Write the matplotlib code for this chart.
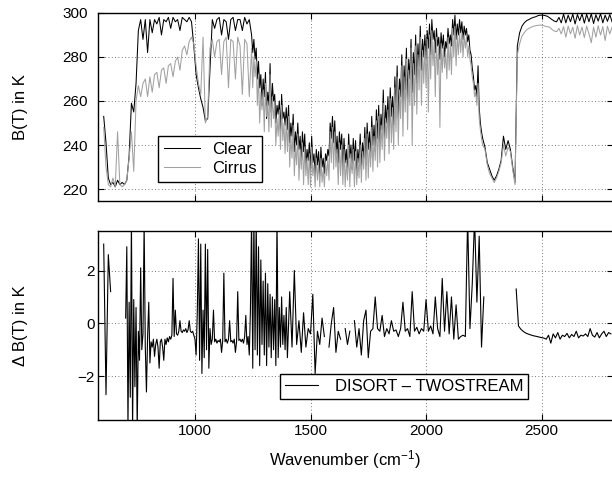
import numpy as np
import matplotlib
matplotlib.use("Agg")
import matplotlib.pyplot as plt

plt.rcParams["font.family"] = ["Liberation Sans", "DejaVu Sans"]
plt.rcParams["mathtext.default"] = "regular"

N = np.nan

# --- brightness temperatures (K) -------------------------------------------
# three stretches: 605-1235 every 10 cm^-1, 1245-2245 every 5, 2255-2805 every 10
wn_top_a = np.arange(605, 1236, 10)
wn_top_b = np.arange(1245, 2246, 5)
wn_top_c = np.arange(2255, 2806, 10)

clear_a = [
    253, 241, 225, 222, 223, 221, 224, 222, 223, 222,
    224, 235, 259, 255, 268, 292, 297, 288, 297, 282,
    297, 291, 297, 295, 298, 290, 297, 296, 298, 293,
    298, 296, 297, 292, 298, 297, 296, 298, 296, 285,
    272, 266, 261, 257, 251, 252, 275, 297, 293, 297,
    298, 290, 297, 296, 288, 297, 298, 292, 297, 297,
    292, 298, 295, 297,
]
clear_b = [
    290, 282, 288, 279, 284, 270, 278, 266, 272, 258,
    270, 262, 273, 252, 264, 258, 277, 255, 268, 260,
    263, 250, 258, 254, 260, 246, 263, 252, 255, 249,
    257, 247, 258, 241, 250, 244, 254, 237, 246, 240,
    250, 238, 244, 233, 246, 237, 245, 230, 238, 233,
    241, 228, 244, 232, 236, 226, 238, 231, 237, 226,
    239, 230, 234, 227, 236, 233, 238, 235, 250, 243,
    253, 241, 251, 236, 244, 232, 246, 238, 245, 229,
    243, 232, 238, 227, 245, 234, 240, 229, 243, 233,
    242, 226, 238, 232, 245, 229, 241, 234, 248, 231,
    250, 238, 246, 234, 253, 240, 249, 237, 256, 243,
    258, 240, 254, 247, 265, 243, 258, 250, 262, 246,
    266, 253, 262, 249, 271, 257, 276, 252, 270, 262,
    281, 256, 276, 265, 284, 260, 279, 270, 288, 264,
    282, 272, 290, 268, 286, 276, 294, 274, 288, 280,
    290, 279, 292, 284, 295, 281, 297, 288, 292, 282,
    293, 285, 289, 279, 291, 284, 290, 280, 287, 284,
    293, 286, 290, 285, 297, 290, 299, 288, 295, 290,
    297, 291, 296, 288, 294, 290, 293, 287, 290, 283,
    281, 275, 271, 265, 267, 262, 276, 257, 250, 246,
    243,
]
clear_c = [
    239, 232, 229, 226, 224,
    226, 229, 233, 244, 238, 242, 238, 230, 223, 285,
    291, 294, 295.5, 296.5, 297, 297.6, 298, 298.3, 298.8, 299,
    299, 298.8, 298.5, 297.8, 297, 296.3, 296, 298, 295.5, 299.5,
    295.5, 299, 296, 299.5, 295, 299.3, 296.5, 299.6, 295.4, 299.4,
    296, 299.6, 295.2, 299.2, 296.3, 299.7, 295.5, 299, 296.2, 299.3, 296,
]

cirrus_a = [
    248, 230, 222, 221, 225, 221, 246, 222, 221, 222,
    224, 234, 246, 228, 260, 267, 262, 268, 270, 262,
    271, 264, 272, 273, 266, 274, 275, 268, 276, 277,
    271, 278, 280, 274, 283, 285, 281, 287, 289, 286,
    276, 268, 263, 289, 250, 253, 284, 288, 280, 287,
    288, 272, 287, 289, 266, 288, 287, 270, 289, 285,
    263, 288, 286, 262,
]
cirrus_b = [
    284, 266, 280, 271, 278, 258, 272, 250, 264, 256,
    265, 246, 268, 253, 260, 246, 272, 248, 262, 252,
    258, 240, 252, 244, 256, 238, 258, 242, 250, 236,
    252, 237, 253, 230, 244, 234, 249, 226, 240, 231,
    245, 224, 238, 229, 241, 222, 239, 226, 234, 222,
    236, 221, 239, 226, 231, 221, 234, 224, 232, 221,
    234, 223, 229, 221, 232, 226, 234, 224, 246, 232,
    248, 229, 246, 230, 238, 222, 241, 226, 240, 222,
    238, 221, 233, 224, 240, 221, 236, 227, 238, 221,
    237, 222, 234, 225, 240, 223, 237, 229, 243, 224,
    245, 225, 241, 230, 248, 228, 244, 233, 251, 230,
    253, 232, 249, 238, 259, 233, 252, 243, 256, 236,
    261, 241, 257, 238, 266, 246, 271, 240, 265, 252,
    276, 244, 271, 255, 279, 247, 274, 258, 284, 240,
    277, 258, 285, 254, 281, 265, 289, 258, 283, 268,
    285, 266, 288, 255, 290, 270, 292, 276, 287, 262,
    289, 272, 284, 248, 286, 273, 285, 275, 282, 270,
    289, 274, 286, 272, 293, 280, 294, 276, 290, 281,
    292, 282, 291, 280, 290, 284, 289, 280, 285, 279,
    276, 271, 268, 262, 264, 258, 268, 252, 247, 243,
    240,
]
cirrus_c = [
    238, 231, 227, 225, 223,
    225, 228, 232, 240, 235, 239, 237, 229, 222, 281,
    286, 289.5, 291, 292.3, 293, 293.5, 294, 294.2, 294.4, 294.5,
    294.3, 294, 293.8, 293.5, 292.5, 291.8, 291.5, 293, 290.5, 293.8,
    289, 294, 290.5, 293.5, 288.5, 294.2, 290, 293.6, 288.8, 294,
    290.5, 286.5, 293.5, 289, 294.2, 290, 293.8, 287.5, 294, 290.5, 293.5,
]

# --- DISORT - TWOSTREAM difference (K) --------------------------------------
wn_d_a = np.arange(605, 636, 10)
wn_d_b = np.arange(700, 1401, 5)
wn_d_c = np.arange(1410, 2251, 10)
wn_d_d = np.arange(2390, 2801, 10)

delta_a = [3.0, -2.7, 2.6, 1.2]
delta_b = [
    0.2, 2.9, -3.9, 0.8, -2.8, 4.0, -4.0, 0.9, -2.4, 0.6,
    -4.0, -0.3, -1.4, 2.1, -1.0, -0.4, 3.8, -0.9, -2.6, -0.5,
    0.8, -1.5, -0.7, -0.9, -0.6, -1.25, -0.8, -0.6, -0.9, -1.7,
    -0.7, -0.6, -0.9, -1.4, -0.6, -0.8, -0.55, -0.7, -0.5, -0.6,
    -0.45, 1.7, -0.5, 0.5, -0.4, -0.45, -0.3, 0.1, -0.3, -0.35,
    -0.25, -0.3, -0.2, -0.35, -0.25, 0.1, -0.3, -0.35, -0.3, -0.45,
    -0.6, -1.2, 0.4, 3.2, -1.4, 3.0, -1.9, 0.5, -1.3, 3.0,
    -1.0, 2.8, -1.7, -0.2, -0.8, -0.6, 0.5, -0.7, -0.6, -0.75,
    -0.65, -0.7, -0.6, -1.1, -0.65, 1.9, -0.7, -0.6, -0.75, -0.6,
    0.1, -0.7, -0.65, -0.75, -0.6, -1.1, -0.7, 1.2, -0.65, -0.6,
    -0.7, -0.6, -0.75, -0.5, 0.3, -0.8, -0.5, -1.2, 0.5, 4.0,
    -1.7, 4.0, -1.0, 4.0, -1.2, 2.9, -1.6, 2.4, -0.8, 1.6,
    -1.2, 1.9, -1.6, 1.5, -0.9, 1.1, -1.3, 1.0, -1.0, 0.9,
    -1.6, 4.0, -1.3, 0.6, -0.9, 1.0, -0.8, 0.3, -1.0, 0.6,
    -1.3,
]
delta_c = [
    1.2, -0.9, 2.0, -0.8, 0.1, -1.1, 0.4, -0.9, -0.2, -0.4,
    1.1, -1.9, -0.3, -0.8, 0.2, -0.5, N, -0.9, 0.0, 0.6,
    -1.1, -0.3, -0.6, N, -0.2, -0.8, -0.3, N, 0.1, -0.9,
    -0.2, -1.2, 0.1, 0.5, -1.3, -0.3, -0.2, 1.0, -0.2, -0.3,
    0.3, -0.5, -0.2, -0.4, 0.1, -0.3, -0.25, -0.5, -0.2, 0.8,
    -0.3, -0.2, -0.5, 1.2, -0.3, -0.15, -0.4, -0.2, -0.3, 0.9,
    -0.3, -0.1, -0.4, 1.0, -0.2, -0.5, 1.7, -0.3, 1.2, -0.4,
    1.0, -0.6, 0.7, -0.6, -0.5, -0.45, -0.5, 4.0, -0.2, 1.5,
    4.0, 0.8, 3.3, -0.9, 1.0,
]
delta_d = [
    1.3, -0.1, -0.22, -0.3, -0.36, -0.4, -0.43, -0.46, -0.48, -0.5,
    -0.52, -0.54, -0.56, -0.6, -0.45, -0.75, -0.4, -0.55, -0.35, -0.6,
    -0.45, -0.5, -0.38, -0.55, -0.42, -0.5, -0.3, -0.55, -0.45, -0.48,
    -0.4, -0.5, -0.2, -0.45, -0.52, -0.35, -0.55, -0.4, -0.3, -0.5,
    -0.35, -0.4,
]

x_ticks = [1000, 1500, 2000, 2500]
top_yticks = [220, 240, 260, 280, 300]
bottom_yticks = [-2, 0, 2]

GRAY = "0.63"
GRID = dict(color="0.3", linestyle=(0, (1, 3)), linewidth=0.6)

wn_top = np.concatenate([wn_top_a, wn_top_b, wn_top_c])
clear = np.array(clear_a + clear_b + clear_c, dtype=float)
cirrus = np.array(cirrus_a + cirrus_b + cirrus_c, dtype=float)

# NaN separators break the line where the difference has no data
wn_d = np.concatenate([wn_d_a, [N], wn_d_b, wn_d_c, [N], wn_d_d])
delta = np.array(delta_a + [N] + delta_b + delta_c + [N] + delta_d, dtype=float)


def _style(ax, label_pad):
    ax.tick_params(direction="in", top=True, right=True, length=4,
                   labelsize=11, width=0.8)
    ax.tick_params(axis="y", pad=label_pad)
    ax.tick_params(axis="x", pad=3)
    for sp in ax.spines.values():
        sp.set_linewidth(1.0)
    ax.grid(True, **GRID)
    ax.set_xlim(580, 2810)
    ax.set_xticks(x_ticks)


fig = plt.figure(figsize=(6.12, 4.8), dpi=100)
ax1 = fig.add_axes([0.160, 0.581, 0.842, 0.392])
ax2 = fig.add_axes([0.160, 0.125, 0.842, 0.394])

ax1.plot(wn_top, clear, color="black", lw=0.75, label="Clear")
ax1.plot(wn_top, cirrus, color=GRAY, lw=0.75, label="Cirrus")
_style(ax1, 7)
ax1.set_ylim(214.5, 300)
ax1.set_yticks(top_yticks)
ax1.set_xticklabels([])
ax1.set_ylabel("B(T) in K", fontsize=12)
ax1.yaxis.set_label_coords(-0.135, 0.5)
leg1 = ax1.legend(loc="lower left", bbox_to_anchor=(0.116, 0.103),
                  borderaxespad=0, fontsize=12, fancybox=False,
                  edgecolor="black", framealpha=1, handlelength=2.2,
                  handletextpad=0.7, labelspacing=0.25, borderpad=0.35)
leg1.get_frame().set_linewidth(1.0)

ax2.plot(wn_d, delta, color="black", lw=0.8,
         label="DISORT \u2013 TWOSTREAM")
_style(ax2, 2.5)
ax2.set_ylim(-3.66, 3.5)
ax2.set_yticks(bottom_yticks)
ax2.set_ylabel("\u0394 B(T) in K", fontsize=12)
ax2.yaxis.set_label_coords(-0.135, 0.5)
ax2.set_xlabel("Wavenumber (cm$^{-1}$)", fontsize=12)
ax2.xaxis.set_label_coords(0.479, -0.148)
leg2 = ax2.legend(loc="lower left", bbox_to_anchor=(0.353, 0.111),
                  borderaxespad=0, fontsize=12, fancybox=False,
                  edgecolor="black", framealpha=1, handlelength=2.0,
                  handletextpad=1.0, borderpad=0.3)
leg2.get_frame().set_linewidth(1.0)

fig.savefig("out.png", dpi=100, facecolor="white")
